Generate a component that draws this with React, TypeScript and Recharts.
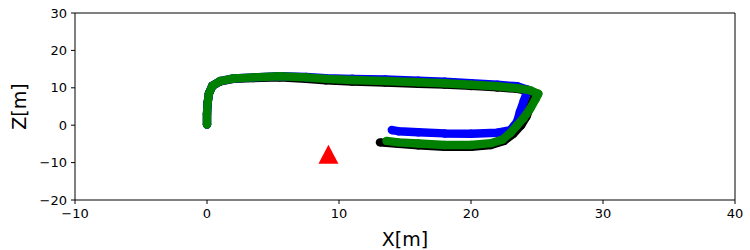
import { ScatterChart, Scatter, XAxis, YAxis, ReferenceLine, Label } from "recharts";

// ground truth (black)
const gtX = [0, 0, 0.05, 0.15, 0.4, 1, 2, 3.5, 5.5, 7.5, 9, 11, 13.5, 16, 18, 20, 22, 23.5, 24.6, 24.8, 24.5, 24.2, 23.8, 23.2, 22.5, 21.5, 20, 18, 16, 14.5, 13.1];
const gtZ = [0.2, 3, 6, 8.5, 10.5, 11.7, 12.4, 12.6, 12.8, 12.4, 12.0, 11.7, 11.4, 11.1, 10.9, 10.5, 10.1, 9.7, 9.0, 8, 5, 2.3, 0, -2.3, -4.2, -5.3, -5.8, -5.8, -5.4, -5.0, -4.6];

// blue estimate
const blueX = [0, 0, 0.05, 0.15, 0.4, 1, 2, 3.5, 5.5, 7.5, 9, 11, 13.5, 16, 18, 20, 22, 23.5, 24.3, 24.0, 23.7, 23.5, 23.0, 22, 20, 18, 16, 14.5, 14];
const blueZ = [0.2, 3, 6, 8.5, 10.5, 11.8, 12.5, 12.8, 13.1, 12.9, 12.6, 12.4, 12.2, 11.9, 11.6, 11.2, 10.8, 10.4, 9.5, 6.5, 3.5, 1, -1.3, -2.0, -2.3, -2.2, -1.9, -1.6, -1.3];

// green estimate
const greenX = [0, 0, 0.05, 0.15, 0.4, 1, 2, 3.5, 5.5, 7.5, 9, 11, 13.5, 16, 18, 20, 22, 23.5, 24.5, 25.1, 24.9, 24.5, 24, 23.5, 23, 22.4, 21.5, 20, 18, 16, 14.5, 13.6];
const greenZ = [0.2, 3, 6, 8.5, 10.5, 11.8, 12.5, 12.8, 13.1, 12.8, 12.4, 12.1, 11.8, 11.5, 11.2, 10.8, 10.4, 9.9, 9.3, 8.4, 7, 4.5, 2, 0, -2, -3.8, -4.8, -5.3, -5.3, -4.9, -4.6, -4.2];

const markerX = [9.2];
const markerZ = [-8.2];

const xTicks = [-10, 0, 10, 20, 30, 40];
const zTicks = [-20, -10, 0, 10, 20, 30];

const toPoints = (xs: number[], zs: number[]) => xs.map((x, i) => ({ x, y: zs[i] }));

const fmt = (v: number) => String(v).replace("-", "\u2212");
const tickStyle = { fontSize: 13, fill: "#000", fontFamily: "DejaVu Sans" };

const dot = (color: string) => (p: any) => <circle cx={p.cx} cy={p.cy} r={4.2} fill={color} />;

const triangle = (p: any) => (
  <polygon
    points={`${p.cx},${p.cy - 11} ${p.cx - 10},${p.cy + 8} ${p.cx + 10},${p.cy + 8}`}
    fill="#ff0000"
  />
);

export default function App() {
  return (
    <div style={{ position: "absolute", left: 0, top: 0, background: "#fff" }}>
      <ScatterChart width={750} height={250} margin={{ top: 13, right: 15, bottom: 0, left: 0 }}>
        <XAxis
          type="number"
          dataKey="x"
          domain={[-10, 40]}
          ticks={xTicks}
          tickFormatter={fmt}
          tick={tickStyle}
          tickSize={4}
          tickMargin={5}
          height={50}
          stroke="#000"
          allowDataOverflow
        >
          <Label value="X[m]" position="insideBottom" offset={4} style={{ fontSize: 19, fill: "#000", fontFamily: "DejaVu Sans" }} />
        </XAxis>
        <YAxis
          type="number"
          dataKey="y"
          domain={[-20, 30]}
          ticks={zTicks}
          tickFormatter={fmt}
          tick={tickStyle}
          tickSize={4}
          tickMargin={4}
          width={75}
          stroke="#000"
          allowDataOverflow
        >
          <Label value="Z[m]" angle={-90} position="insideLeft" offset={19} style={{ fontSize: 19, fill: "#000", fontFamily: "DejaVu Sans", textAnchor: "middle" }} />
        </YAxis>
        <ReferenceLine y={30} stroke="#000" />
        <ReferenceLine x={40} stroke="#000" />
        <Scatter data={toPoints(gtX, gtZ)} isAnimationActive={false} shape={dot("#000")} line={{ stroke: "#000", strokeWidth: 8.4, strokeLinejoin: "round" }} />
        <Scatter data={toPoints(blueX, blueZ)} isAnimationActive={false} shape={dot("#0000ff")} line={{ stroke: "#0000ff", strokeWidth: 8.4, strokeLinejoin: "round" }} />
        <Scatter data={toPoints(greenX, greenZ)} isAnimationActive={false} shape={dot("#008000")} line={{ stroke: "#008000", strokeWidth: 8.4, strokeLinejoin: "round" }} />
        <Scatter data={toPoints(markerX, markerZ)} isAnimationActive={false} shape={triangle} />
      </ScatterChart>
    </div>
  );
}
